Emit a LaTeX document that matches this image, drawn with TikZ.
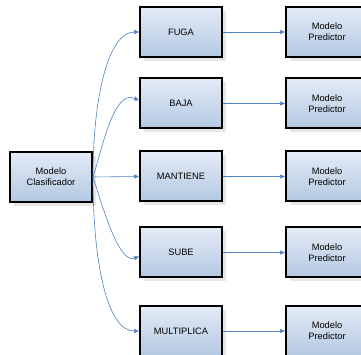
\documentclass[tikz,border=0pt]{standalone}
\usepackage{fontspec}
\setmainfont{Liberation Sans}
\usetikzlibrary{shadows,arrows.meta}
\definecolor{boxtop}{HTML}{E3EBF6}
\definecolor{boxbottom}{HTML}{B4C8E2}
\definecolor{edgeblue}{HTML}{4F81BD}
\tikzset{
  BoxStyle/.style = { rectangle, draw = black, line width = 2pt,
                      top color = boxtop, bottom color = boxbottom,
                      minimum width = 82pt, minimum height = 50pt,
                      align = center, font = \fontsize{9.3}{11}\selectfont,
                      drop shadow = {opacity = 0.18, shadow xshift = 4pt,
                                     shadow yshift = -4pt} },
  EdgeStyle/.style = { draw = edgeblue, line width = 0.6pt,
                       -{Triangle[length=5pt,width=4pt]} } }

\begin{document}
\begin{tikzpicture}[x=1pt,y=1pt]
  \useasboundingbox (0,0) rectangle (361,355);
  \clip (0,0) rectangle (361,355);

  \node[BoxStyle] (clasif) at (51,178) {Modelo\\Clasificador};

  \node[BoxStyle] (fuga)   at (181,323)   {FUGA};
  \node[BoxStyle] (baja)   at (181,251.5) {BAJA};
  \node[BoxStyle] (mant)   at (181,178.5) {MANTIENE};
  \node[BoxStyle] (sube)   at (181,102.5) {SUBE};
  \node[BoxStyle] (multi)  at (181,24)    {MULTIPLICA};

  \node[BoxStyle] (pred1) at (327,323)   {Modelo\\Predictor};
  \node[BoxStyle] (pred2) at (327,251.5) {Modelo\\Predictor};
  \node[BoxStyle] (pred3) at (327,178.5) {Modelo\\Predictor};
  \node[BoxStyle] (pred4) at (327,102.5) {Modelo\\Predictor};
  \node[BoxStyle] (pred5) at (327,24)    {Modelo\\Predictor};

  \draw[EdgeStyle] (clasif.east) to[out=90,in=180,out looseness=1.4,in looseness=0.5] (fuga.west);
  \draw[EdgeStyle] (clasif.east) to[out=72,in=155,out looseness=0.8,in looseness=0.8] ([yshift=3pt]baja.west);
  \draw[EdgeStyle] (clasif.east) -- (mant.west);
  \draw[EdgeStyle] (clasif.east) to[out=-72,in=200,out looseness=0.9,in looseness=0.6] ([yshift=-4pt]sube.west);
  \draw[EdgeStyle] (clasif.east) to[out=-90,in=180,out looseness=1.4,in looseness=0.5] (multi.west);

  \draw[EdgeStyle] (fuga.east)  -- (pred1.west);
  \draw[EdgeStyle] (baja.east)  -- (pred2.west);
  \draw[EdgeStyle] (mant.east)  -- (pred3.west);
  \draw[EdgeStyle] (sube.east)  -- (pred4.west);
  \draw[EdgeStyle] (multi.east) -- (pred5.west);

\end{tikzpicture}
\end{document}
